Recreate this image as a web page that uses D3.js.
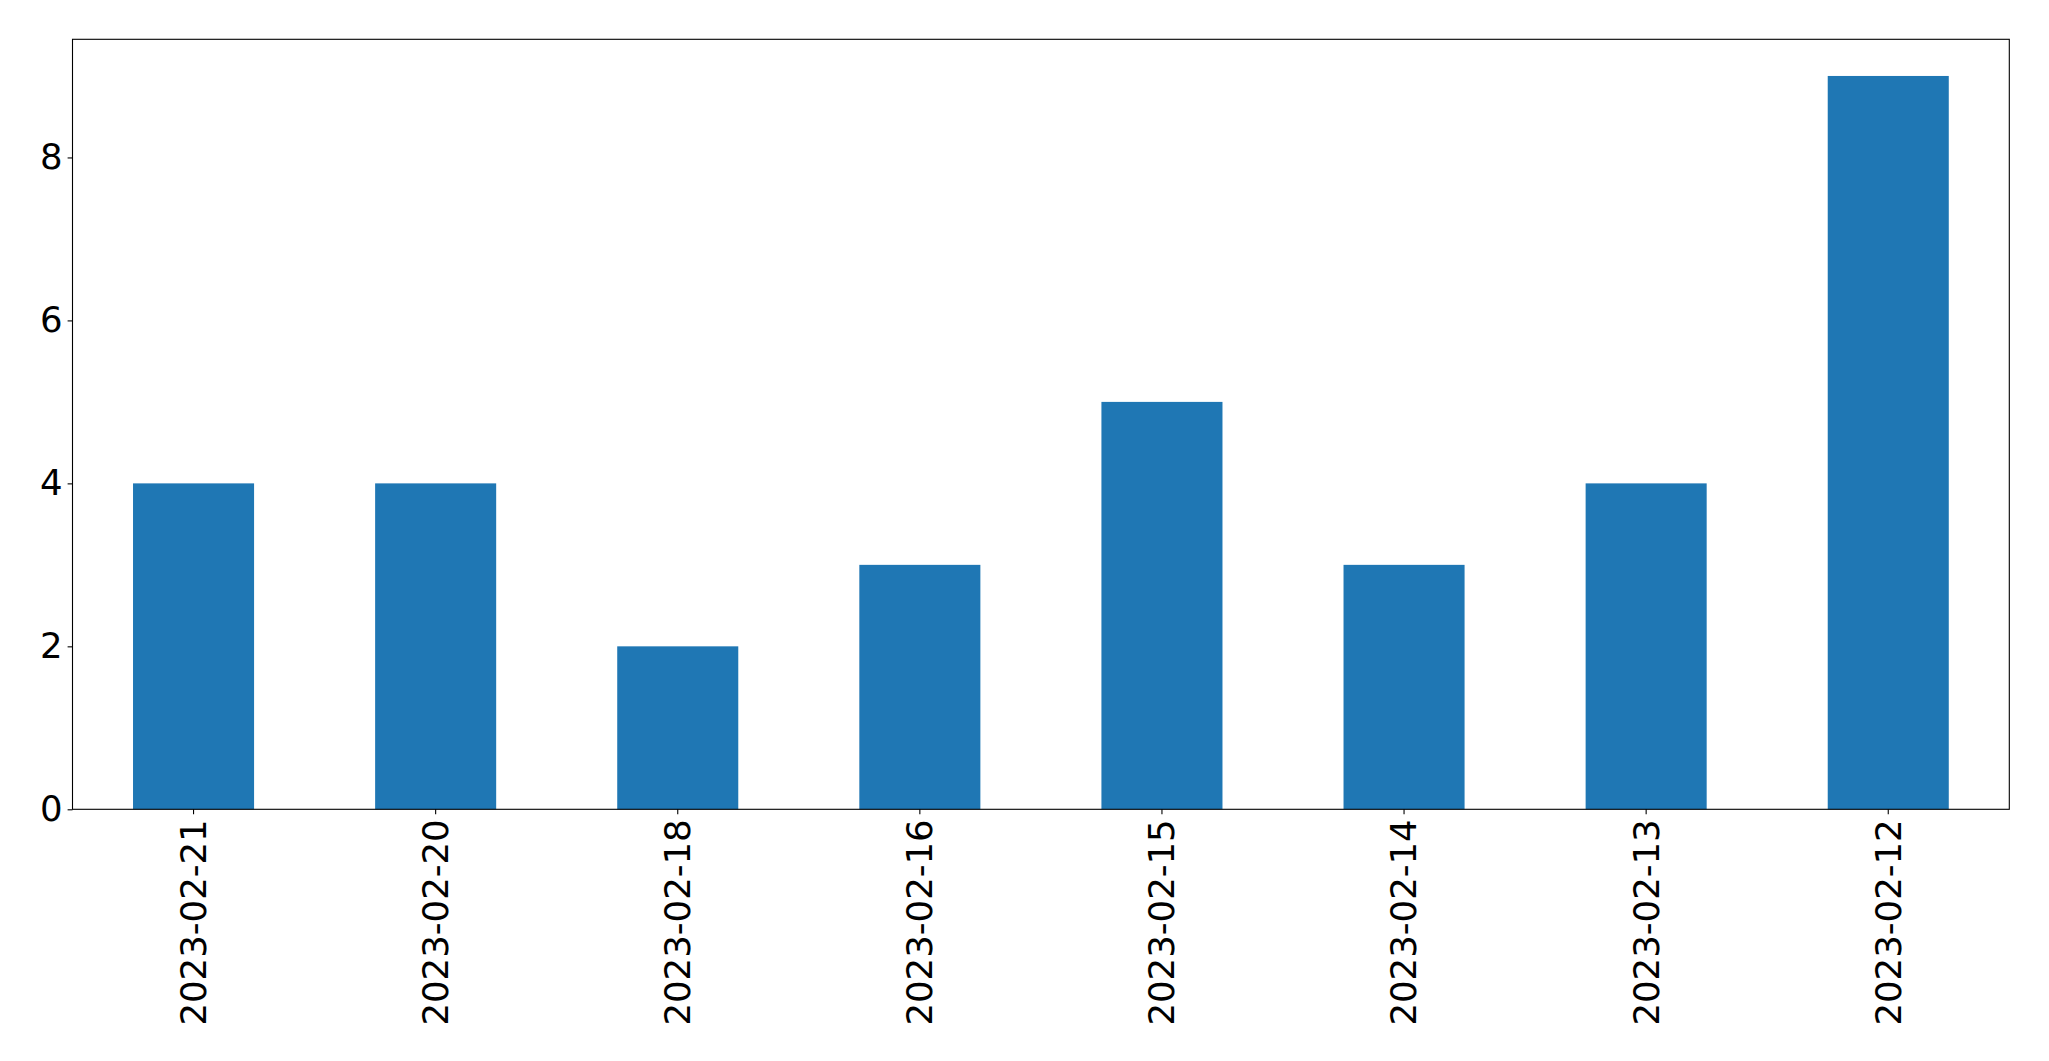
<!DOCTYPE html>
<html>
<head>
<meta charset="utf-8">
<script src="https://cdn.jsdelivr.net/npm/d3@7"></script>
<style>
  html, body { margin: 0; padding: 0; background: #fff; }
  svg { display: block; }
  text { font-family: "DejaVu Sans", sans-serif; fill: #000; }
</style>
</head>
<body>
<svg id="chart" width="2049" height="1061"></svg>
<script>
const categories = ["2023-02-21", "2023-02-20", "2023-02-18", "2023-02-16", "2023-02-15", "2023-02-14", "2023-02-13", "2023-02-12"];
const values = [4, 4, 2, 3, 5, 3, 4, 9];
const yTicks = [0, 2, 4, 6, 8];

const plotLeft = 72.5, plotRight = 2009.3, plotTop = 39.3, plotBottom = 809.3;
const fontSize = 35.5;

const svg = d3.select("#chart");

const x = d3.scaleBand().domain(categories).range([plotLeft, plotRight]).paddingInner(0.5).paddingOuter(0.25);
const y = d3.scaleLinear().domain([0, d3.max(values) * 1.05]).range([plotBottom, plotTop]);

svg.append("g")
  .selectAll("rect")
  .data(values)
  .join("rect")
  .attr("x", (d, i) => x(categories[i]))
  .attr("width", x.bandwidth())
  .attr("y", d => y(d))
  .attr("height", d => y(0) - y(d))
  .attr("fill", "#1f77b4");

const yAxis = svg.append("g")
  .attr("transform", `translate(${plotLeft},0)`)
  .call(d3.axisLeft(y).tickValues(yTicks).tickFormat(d3.format("d")).tickSize(4.9).tickPadding(5));
yAxis.select(".domain").remove();
yAxis.selectAll("line").attr("stroke", "#000").attr("stroke-width", 1.1);
yAxis.selectAll("text").style("font-size", fontSize + "px").attr("font-family", "DejaVu Sans");

const xAxis = svg.append("g")
  .attr("transform", `translate(0,${plotBottom})`)
  .call(d3.axisBottom(x).tickSize(4.9).tickPadding(5));
xAxis.select(".domain").remove();
xAxis.selectAll("line").attr("stroke", "#000").attr("stroke-width", 1.1);
xAxis.selectAll("text")
  .style("font-size", fontSize + "px")
  .attr("font-family", "DejaVu Sans")
  .attr("transform", "rotate(-90)")
  .attr("text-anchor", "end")
  .attr("dy", "0.35em")
  .attr("x", -10)
  .attr("y", 0);

svg.append("rect")
  .attr("x", plotLeft).attr("y", plotTop)
  .attr("width", plotRight - plotLeft).attr("height", plotBottom - plotTop)
  .attr("fill", "none").attr("stroke", "#000").attr("stroke-width", 1.1);
</script>
</body>
</html>
